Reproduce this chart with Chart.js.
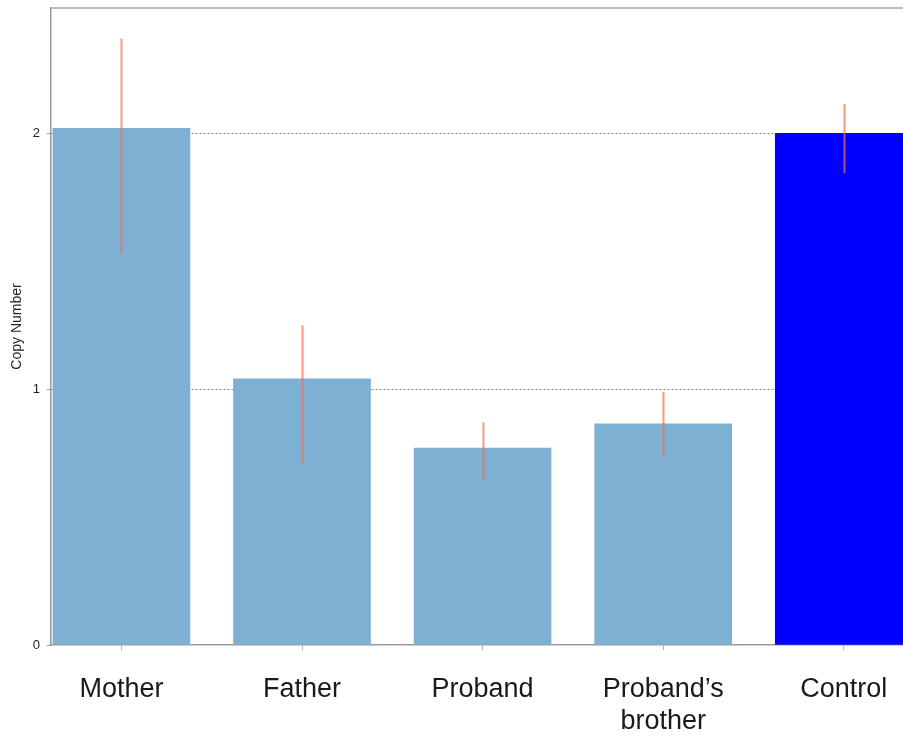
<!DOCTYPE html>
<html>
<head>
<meta charset="utf-8">
<title>Copy Number</title>
<script src="https://cdn.jsdelivr.net/npm/chart.js@4/dist/chart.umd.min.js"></script>
<style>
  html, body { margin: 0; padding: 0; background: #ffffff; overflow: hidden; }
  #wrap { width: 903px; height: 736px; position: relative; }
</style>
</head>
<body>
<div id="wrap"><canvas id="chart" width="903" height="736"></canvas></div>
<script>
// Samples and their measured copy numbers
const categories = ['Mother', 'Father', 'Proband', ['Proband\u2019s', 'brother'], 'Control'];
const copyNumber = [2.02, 1.04, 0.77, 0.865, 2.0];
const errorLow  = [1.53, 0.71, 0.645, 0.735, 1.845];
const errorHigh = [2.37, 1.25, 0.87, 0.99, 2.115];
const barColors = ['#7eb0d4', '#7eb0d4', '#7eb0d4', '#7eb0d4', '#0000ff'];
const yTicks = [0, 1, 2];

const FONT = "'Liberation Sans', Arial, sans-serif";

// Vertical error lines for each sample
const errorBars = {
  id: 'errorBars',
  afterDatasetsDraw(chart) {
    const { ctx, scales: { x, y }, chartArea } = chart;
    ctx.save();
    ctx.beginPath();
    ctx.rect(chartArea.left, chartArea.top, chartArea.right - chartArea.left, chartArea.bottom - chartArea.top);
    ctx.clip();
    ctx.strokeStyle = 'rgba(245, 110, 80, 0.72)';
    ctx.lineWidth = 2;
    categories.forEach((c, i) => {
      const px = Math.round(x.getPixelForValue(i)) + 0.5;
      ctx.beginPath();
      ctx.moveTo(px, y.getPixelForValue(errorHigh[i]));
      ctx.lineTo(px, y.getPixelForValue(errorLow[i]));
      ctx.stroke();
    });
    ctx.restore();
  }
};

// Frame line along the top of the plot area
const topFrame = {
  id: 'topFrame',
  beforeDatasetsDraw(chart) {
    const { ctx, chartArea } = chart;
    ctx.save();
    ctx.strokeStyle = '#aaaaaa';
    ctx.lineWidth = 1.5;
    ctx.beginPath();
    ctx.moveTo(chartArea.left, chartArea.top);
    ctx.lineTo(chartArea.right, chartArea.top);
    ctx.stroke();
    ctx.restore();
  }
};

// Keep one tick per sample on x, and the whole-number ticks on y
const categoryTicks = scale => {
  scale.ticks = scale.ticks.filter(t => Number.isInteger(t.value) && t.value >= 0 && t.value < categories.length);
};
const wholeTicks = scale => {
  scale.ticks = scale.ticks.filter(t => yTicks.includes(t.value));
};

new Chart(document.getElementById('chart'), {
  type: 'bar',
  data: {
    datasets: [{
      data: copyNumber.map((v, i) => ({ x: i, y: v })),
      backgroundColor: barColors,
      borderWidth: 0,
      barThickness: 137
    }]
  },
  options: {
    responsive: false,
    animation: false,
    layout: { padding: { top: 8, left: 0, right: 0, bottom: 0 } },
    plugins: { legend: { display: false }, tooltip: { enabled: false } },
    scales: {
      x: {
        type: 'linear',
        offset: false,
        min: -0.39,
        max: 4.328,
        afterBuildTicks: categoryTicks,
        afterFit: s => { s.height = 91; s.paddingLeft = 0; s.paddingRight = 0; },
        border: { display: true, color: '#9a9a9a', width: 1.5 },
        grid: { offset: false, drawOnChartArea: false, drawTicks: true, tickLength: 5, color: '#b0b0b0' },
        ticks: {
          stepSize: 1,
          includeBounds: false,
          autoSkip: false,
          maxRotation: 0,
          padding: 23,
          color: '#1a1a1a',
          font: { family: FONT, size: 27, lineHeight: 1.2 },
          callback: v => categories[v]
        }
      },
      y: {
        min: 0,
        max: 2.49,
        afterBuildTicks: wholeTicks,
        afterFit: s => { s.width = 51; s.paddingTop = 0; s.paddingBottom = 0; },
        border: { display: true, color: '#9a9a9a', width: 1.5, dash: [2, 2] },
        grid: {
          color: ctx => ctx.tick && ctx.tick.value === 0 ? 'rgba(0,0,0,0)' : '#8a8a8a',
          tickLength: 4,
          tickColor: '#9a9a9a',
          lineWidth: 1
        },
        ticks: {
          stepSize: 1,
          includeBounds: false,
          padding: 7,
          color: '#222222',
          font: { family: FONT, size: 13 },
          callback: v => String(v)
        },
        title: {
          display: true,
          text: 'Copy Number',
          color: '#222222',
          font: { family: FONT, size: 14 },
          padding: { top: 8.5, bottom: 0 }
        }
      }
    }
  },
  plugins: [errorBars, topFrame]
});
</script>
</body>
</html>
